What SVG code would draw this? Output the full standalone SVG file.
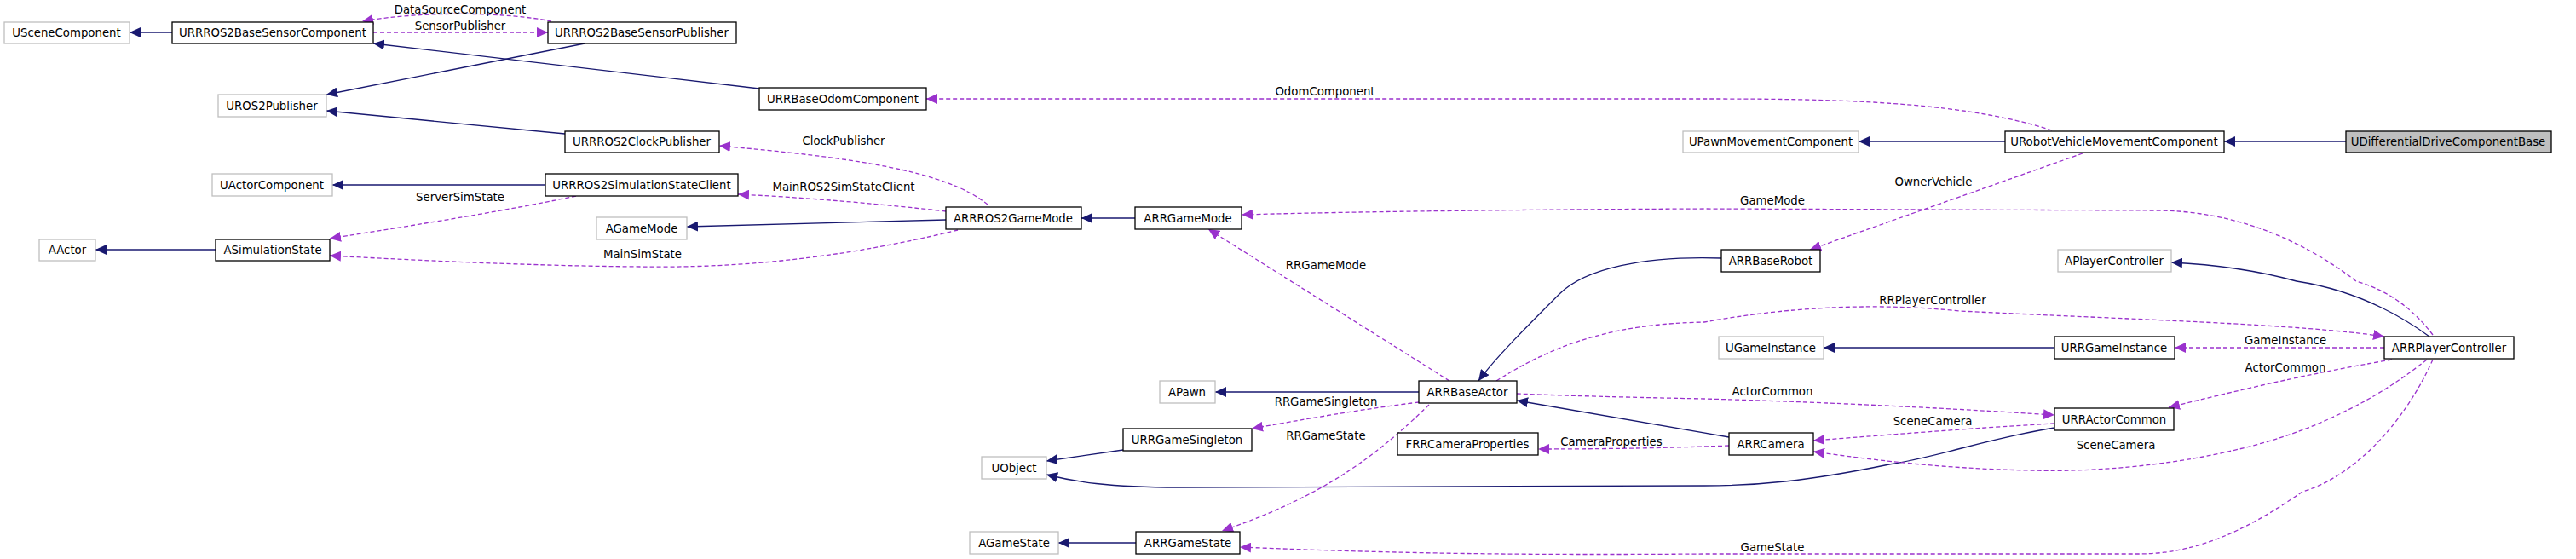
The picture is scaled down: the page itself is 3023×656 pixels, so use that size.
<svg xmlns="http://www.w3.org/2000/svg" width="3023" height="656" viewBox="0 0 3023 656">
<style>
.n rect{fill:#fff;stroke:#000;stroke-width:1.3}
.g rect{fill:#fff;stroke:#bfbfbf;stroke-width:1.3}
.sel rect{fill:#bfbfbf;stroke:#000;stroke-width:1.3}
text{font-family:"DejaVu Sans",sans-serif;font-size:13.3px;fill:#000}
.n text,.g text,.sel text{text-anchor:middle}
.inh{fill:none;stroke:#191970;stroke-width:1.3;marker-end:url(#ab)}
.use{fill:none;stroke:#9a32cd;stroke-width:1.3;stroke-dasharray:5,3;marker-end:url(#ap)}
.lbl{text-anchor:middle}
</style>
<defs>
<marker id="ab" markerUnits="userSpaceOnUse" markerWidth="14" markerHeight="12" refX="13" refY="6" orient="auto"><path d="M0,0 L13,6 L0,12 Z" fill="#191970"/></marker>
<marker id="ap" markerUnits="userSpaceOnUse" markerWidth="14" markerHeight="12" refX="13" refY="6" orient="auto"><path d="M0,0 L13,6 L0,12 Z" fill="#9a32cd"/></marker>
</defs>
<rect width="3023" height="656" fill="#fff"/>
<g id="edges">
<path class="inh" d="M202,38 L152,38"/>
<path class="inh" d="M891,104 L438,51"/>
<path class="inh" d="M686,51 L383,111"/>
<path class="inh" d="M663,157 L383,130"/>
<path class="inh" d="M640,217 L390,217"/>
<path class="inh" d="M253,293 L112,293"/>
<path class="inh" d="M1110,258 L806,266"/>
<path class="inh" d="M1332,256 L1269,256"/>
<path class="inh" d="M2353,166 L2181,166"/>
<path class="inh" d="M2753,166 L2610,166"/>
<path class="inh" d="M1665,460 L1426,460"/>
<path class="inh" d="M2020,303 C1930,300 1860,315 1830,345 C1790,385 1755,420 1735,447"/>
<path class="inh" d="M2029,513 L1780,470"/>
<path class="inh" d="M1318,528 L1228,541"/>
<path class="inh" d="M2411,502 C2330,515 2280,535 2217,545 C2120,565 2060,570 2000,570 L1383,572 C1300,572 1260,565 1228,557"/>
<path class="inh" d="M1333,637 L1242,637"/>
<path class="inh" d="M2411,408 L2140,408"/>
<path class="inh" d="M2851,395 C2810,365 2760,340 2695,330 C2640,315 2590,310 2548,308"/>

<path class="use" d="M647,25 C600,15 500,12 425,25"/>
<path class="use" d="M438,38 L643,38"/>
<path class="use" d="M2408,153 C2300,118 2150,116 2000,116 L1087,116"/>
<path class="use" d="M1159,240 C1110,200 1000,185 844,171"/>
<path class="use" d="M1110,248 C1040,240 950,232 866,228"/>
<path class="use" d="M676,230 C580,250 480,265 387,280"/>
<path class="use" d="M1124,270 C1000,300 880,315 752,313 C620,312 480,305 387,300"/>
<path class="use" d="M2855,393 C2830,360 2800,340 2765,330 C2700,280 2620,247 2529,247 L2000,245 C1800,246 1600,248 1457,252"/>
<path class="use" d="M2444,180 L2124,293"/>
<path class="use" d="M1701,447 L1418,269"/>
<path class="use" d="M1756,447 C1830,400 1900,380 2000,378 C2100,360 2200,355 2300,365 C2500,375 2700,380 2798,395"/>
<path class="use" d="M2798,408 L2552,408"/>
<path class="use" d="M2807,422 C2700,440 2620,460 2545,478"/>
<path class="use" d="M1780,462 C1850,465 1950,467 2000,468 C2150,472 2300,480 2411,487"/>
<path class="use" d="M2411,497 C2320,502 2220,510 2128,517"/>
<path class="use" d="M2848,422 C2800,460 2760,480 2721,497 C2620,540 2480,555 2383,552 C2280,550 2200,540 2128,530"/>
<path class="use" d="M2029,523 C1950,526 1870,527 1805,527"/>
<path class="use" d="M1665,472 C1600,480 1530,492 1469,503"/>
<path class="use" d="M1677,475 C1620,530 1560,580 1434,623"/>
<path class="use" d="M2855,422 C2820,500 2760,560 2702,577 C2640,620 2580,650 2510,650 L2000,650 C1750,652 1600,648 1455,642"/>

<text class="lbl" x="540" y="16">DataSourceComponent</text>
<text class="lbl" x="540" y="35">SensorPublisher</text>
<text class="lbl" x="1555" y="112">OdomComponent</text>
<text class="lbl" x="990" y="170">ClockPublisher</text>
<text class="lbl" x="990" y="224">MainROS2SimStateClient</text>
<text class="lbl" x="540" y="236">ServerSimState</text>
<text class="lbl" x="754" y="303">MainSimState</text>
<text class="lbl" x="2080" y="240">GameMode</text>
<text class="lbl" x="2269" y="218">OwnerVehicle</text>
<text class="lbl" x="1556" y="316">RRGameMode</text>
<text class="lbl" x="2268" y="357">RRPlayerController</text>
<text class="lbl" x="2682" y="404">GameInstance</text>
<text class="lbl" x="2682" y="436">ActorCommon</text>
<text class="lbl" x="2080" y="464">ActorCommon</text>
<text class="lbl" x="2268" y="499">SceneCamera</text>
<text class="lbl" x="2483" y="527">SceneCamera</text>
<text class="lbl" x="1891" y="523">CameraProperties</text>
<text class="lbl" x="1556" y="476">RRGameSingleton</text>
<text class="lbl" x="1556" y="516">RRGameState</text>
<text class="lbl" x="2080" y="647">GameState</text>
</g>
<g id="USceneComponent" class="g"><rect x="5" y="26" width="147" height="25"/><text x="78" y="43">USceneComponent</text></g>
<g id="URRROS2BaseSensorComponent" class="n"><rect x="202" y="26" width="236" height="25"/><text x="320" y="43">URRROS2BaseSensorComponent</text></g>
<g id="URRROS2BaseSensorPublisher" class="n"><rect x="643" y="26" width="221" height="25"/><text x="753" y="43">URRROS2BaseSensorPublisher</text></g>
<g id="UROS2Publisher" class="g"><rect x="256" y="111" width="127" height="26"/><text x="319" y="129">UROS2Publisher</text></g>
<g id="URRBaseOdomComponent" class="n"><rect x="891" y="103" width="196" height="26"/><text x="989" y="121">URRBaseOdomComponent</text></g>
<g id="URRROS2ClockPublisher" class="n"><rect x="663" y="154" width="181" height="25"/><text x="753" y="171">URRROS2ClockPublisher</text></g>
<g id="UActorComponent" class="g"><rect x="249" y="204" width="141" height="26"/><text x="319" y="222">UActorComponent</text></g>
<g id="URRROS2SimulationStateClient" class="n"><rect x="640" y="204" width="226" height="26"/><text x="753" y="222">URRROS2SimulationStateClient</text></g>
<g id="AGameMode" class="g"><rect x="700" y="255" width="106" height="26"/><text x="753" y="273">AGameMode</text></g>
<g id="AActor" class="g"><rect x="46" y="281" width="66" height="25"/><text x="79" y="298">AActor</text></g>
<g id="ASimulationState" class="n"><rect x="253" y="281" width="134" height="25"/><text x="320" y="298">ASimulationState</text></g>
<g id="ARRROS2GameMode" class="n"><rect x="1110" y="243" width="159" height="26"/><text x="1189" y="261">ARRROS2GameMode</text></g>
<g id="ARRGameMode" class="n"><rect x="1332" y="243" width="125" height="26"/><text x="1394" y="261">ARRGameMode</text></g>
<g id="UPawnMovementComponent" class="g"><rect x="1975" y="154" width="206" height="25"/><text x="2078" y="171">UPawnMovementComponent</text></g>
<g id="URobotVehicleMovementComponent" class="n"><rect x="2353" y="154" width="257" height="25"/><text x="2481" y="171">URobotVehicleMovementComponent</text></g>
<g id="UDifferentialDriveComponentBase" class="sel"><rect x="2753" y="154" width="241" height="25"/><text x="2873" y="171">UDifferentialDriveComponentBase</text></g>
<g id="ARRBaseRobot" class="n"><rect x="2020" y="293" width="116" height="26"/><text x="2078" y="311">ARRBaseRobot</text></g>
<g id="APlayerController" class="g"><rect x="2415" y="293" width="133" height="26"/><text x="2481" y="311">APlayerController</text></g>
<g id="APawn" class="g"><rect x="1361" y="447" width="65" height="26"/><text x="1393" y="465">APawn</text></g>
<g id="ARRBaseActor" class="n"><rect x="1665" y="447" width="115" height="26"/><text x="1722" y="465">ARRBaseActor</text></g>
<g id="URRGameSingleton" class="n"><rect x="1318" y="503" width="151" height="26"/><text x="1393" y="521">URRGameSingleton</text></g>
<g id="UObject" class="g"><rect x="1152" y="536" width="76" height="26"/><text x="1190" y="554">UObject</text></g>
<g id="FRRCameraProperties" class="n"><rect x="1640" y="508" width="165" height="26"/><text x="1722" y="526">FRRCameraProperties</text></g>
<g id="AGameState" class="g"><rect x="1138" y="624" width="104" height="26"/><text x="1190" y="642">AGameState</text></g>
<g id="ARRGameState" class="n"><rect x="1333" y="624" width="122" height="26"/><text x="1394" y="642">ARRGameState</text></g>
<g id="UGameInstance" class="g"><rect x="2017" y="395" width="123" height="26"/><text x="2078" y="413">UGameInstance</text></g>
<g id="URRGameInstance" class="n"><rect x="2411" y="395" width="141" height="26"/><text x="2481" y="413">URRGameInstance</text></g>
<g id="ARRPlayerController" class="n"><rect x="2798" y="395" width="152" height="26"/><text x="2874" y="413">ARRPlayerController</text></g>
<g id="URRActorCommon" class="n"><rect x="2411" y="479" width="140" height="26"/><text x="2481" y="497">URRActorCommon</text></g>
<g id="ARRCamera" class="n"><rect x="2029" y="508" width="99" height="26"/><text x="2078" y="526">ARRCamera</text></g>
</svg>
